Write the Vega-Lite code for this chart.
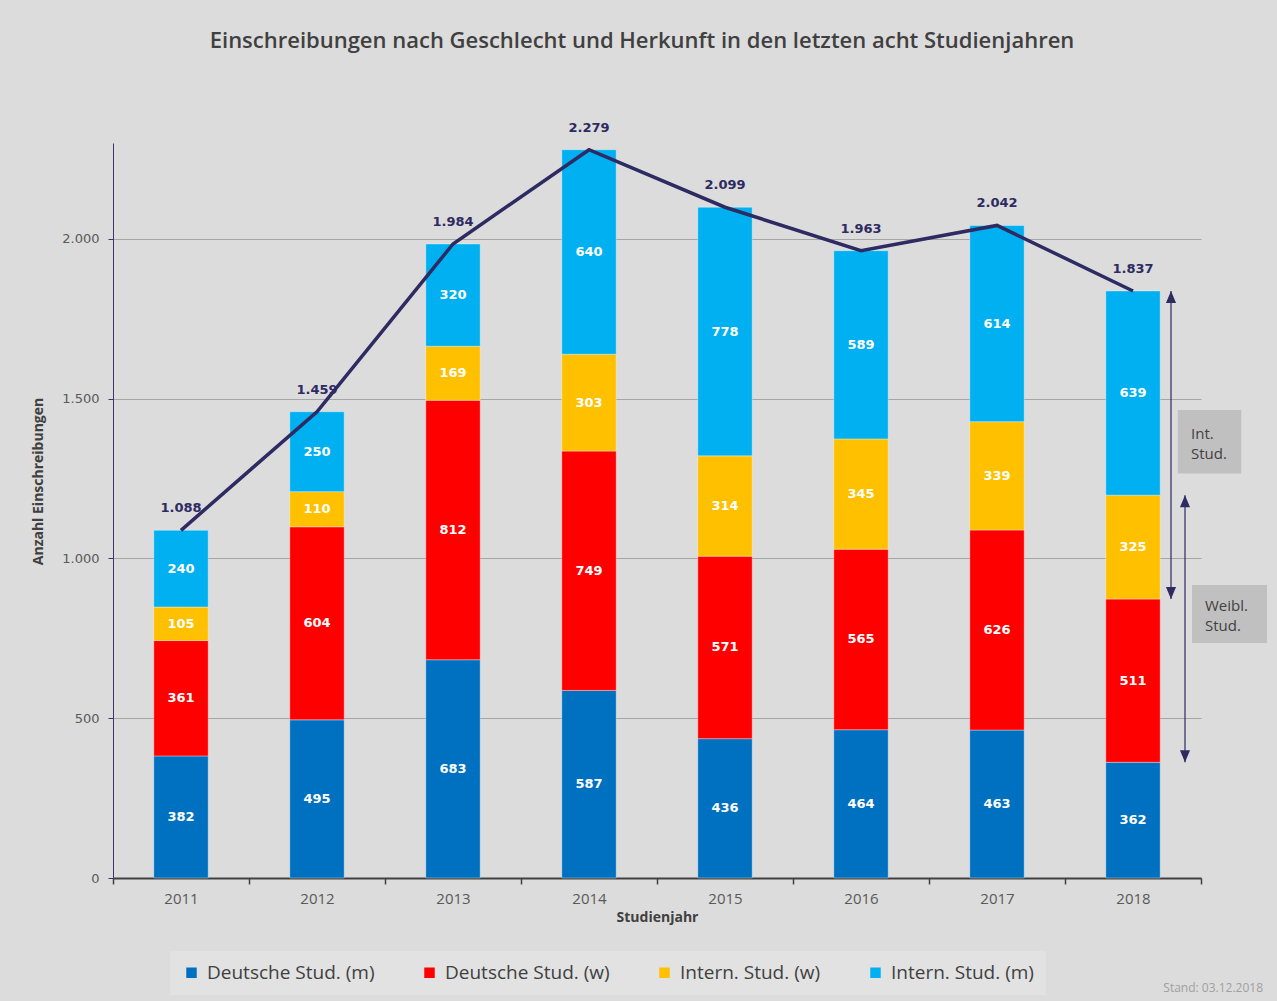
{
  "$schema": "https://vega.github.io/schema/vega-lite/v6.json",
  "width": 1088,
  "height": 735,
  "autosize": {"type": "none"},
  "padding": {"left": 113, "top": 143, "right": 76, "bottom": 123},
  "background": "#dcdcdc",
  "title": {
    "text": "Einschreibungen nach Geschlecht und Herkunft in den letzten acht Studienjahren",
    "font": "Open Sans",
    "fontSize": 22,
    "fontWeight": 600,
    "color": "#404040",
    "anchor": "middle",
    "dx": -15,
    "offset": 69
  },
  "datasets": {
    "einschreibungen": [
      {"Jahr": "2011", "Gruppe": "Deutsche Stud. (m)", "Anzahl": 382},
      {"Jahr": "2011", "Gruppe": "Deutsche Stud. (w)", "Anzahl": 361},
      {"Jahr": "2011", "Gruppe": "Intern. Stud. (w)", "Anzahl": 105},
      {"Jahr": "2011", "Gruppe": "Intern. Stud. (m)", "Anzahl": 240},
      {"Jahr": "2012", "Gruppe": "Deutsche Stud. (m)", "Anzahl": 495},
      {"Jahr": "2012", "Gruppe": "Deutsche Stud. (w)", "Anzahl": 604},
      {"Jahr": "2012", "Gruppe": "Intern. Stud. (w)", "Anzahl": 110},
      {"Jahr": "2012", "Gruppe": "Intern. Stud. (m)", "Anzahl": 250},
      {"Jahr": "2013", "Gruppe": "Deutsche Stud. (m)", "Anzahl": 683},
      {"Jahr": "2013", "Gruppe": "Deutsche Stud. (w)", "Anzahl": 812},
      {"Jahr": "2013", "Gruppe": "Intern. Stud. (w)", "Anzahl": 169},
      {"Jahr": "2013", "Gruppe": "Intern. Stud. (m)", "Anzahl": 320},
      {"Jahr": "2014", "Gruppe": "Deutsche Stud. (m)", "Anzahl": 587},
      {"Jahr": "2014", "Gruppe": "Deutsche Stud. (w)", "Anzahl": 749},
      {"Jahr": "2014", "Gruppe": "Intern. Stud. (w)", "Anzahl": 303},
      {"Jahr": "2014", "Gruppe": "Intern. Stud. (m)", "Anzahl": 640},
      {"Jahr": "2015", "Gruppe": "Deutsche Stud. (m)", "Anzahl": 436},
      {"Jahr": "2015", "Gruppe": "Deutsche Stud. (w)", "Anzahl": 571},
      {"Jahr": "2015", "Gruppe": "Intern. Stud. (w)", "Anzahl": 314},
      {"Jahr": "2015", "Gruppe": "Intern. Stud. (m)", "Anzahl": 778},
      {"Jahr": "2016", "Gruppe": "Deutsche Stud. (m)", "Anzahl": 464},
      {"Jahr": "2016", "Gruppe": "Deutsche Stud. (w)", "Anzahl": 565},
      {"Jahr": "2016", "Gruppe": "Intern. Stud. (w)", "Anzahl": 345},
      {"Jahr": "2016", "Gruppe": "Intern. Stud. (m)", "Anzahl": 589},
      {"Jahr": "2017", "Gruppe": "Deutsche Stud. (m)", "Anzahl": 463},
      {"Jahr": "2017", "Gruppe": "Deutsche Stud. (w)", "Anzahl": 626},
      {"Jahr": "2017", "Gruppe": "Intern. Stud. (w)", "Anzahl": 339},
      {"Jahr": "2017", "Gruppe": "Intern. Stud. (m)", "Anzahl": 614},
      {"Jahr": "2018", "Gruppe": "Deutsche Stud. (m)", "Anzahl": 362},
      {"Jahr": "2018", "Gruppe": "Deutsche Stud. (w)", "Anzahl": 511},
      {"Jahr": "2018", "Gruppe": "Intern. Stud. (w)", "Anzahl": 325},
      {"Jahr": "2018", "Gruppe": "Intern. Stud. (m)", "Anzahl": 639}
    ],
    "gesamt": [
      {"Jahr": "2011", "Gesamt": 1088},
      {"Jahr": "2012", "Gesamt": 1459},
      {"Jahr": "2013", "Gesamt": 1984},
      {"Jahr": "2014", "Gesamt": 2279},
      {"Jahr": "2015", "Gesamt": 2099},
      {"Jahr": "2016", "Gesamt": 1963},
      {"Jahr": "2017", "Gesamt": 2042},
      {"Jahr": "2018", "Gesamt": 1837}
    ],
    "pfeile": [
      {"Jahr": "2018", "Pfeil": "Int. Stud.", "von": 873, "bis": 1837},
      {"Jahr": "2018", "Pfeil": "Weibl. Stud.", "von": 362, "bis": 1198}
    ]
  },
  "layer": [
    {
      "data": {"name": "einschreibungen"},
      "transform": [
        {"calculate": "indexof(['Deutsche Stud. (m)','Deutsche Stud. (w)','Intern. Stud. (w)','Intern. Stud. (m)'], datum.Gruppe)", "as": "Rang"},
        {"stack": "Anzahl", "groupby": ["Jahr"], "sort": [{"field": "Rang", "order": "ascending"}], "as": ["y0", "y1"]},
        {"calculate": "(datum.y0 + datum.y1) / 2", "as": "ymid"}
      ],
      "layer": [
        {
          "mark": {"type": "bar", "width": {"band": 0.4}, "stroke": "#ffffff", "strokeWidth": 0.7, "strokeOpacity": 0.5},
          "encoding": {
            "x": {"field": "Jahr", "type": "nominal", "title": "Studienjahr",
                  "scale": {"paddingInner": 0, "paddingOuter": 0}},
            "y": {"field": "y0", "type": "quantitative", "title": "Anzahl Einschreibungen",
                  "scale": {"domain": [0, 2300], "nice": false},
                  "axis": {"values": [0, 500, 1000, 1500, 2000], "format": ",d"}},
            "y2": {"field": "y1"},
            "color": {
              "field": "Gruppe", "type": "nominal",
              "scale": {
                "domain": ["Deutsche Stud. (m)", "Deutsche Stud. (w)", "Intern. Stud. (w)", "Intern. Stud. (m)"],
                "range": ["#0070c0", "#ff0000", "#ffc000", "#00b0f0"]
              },
              "legend": {"title": null}
            }
          }
        },
        {
          "mark": {"type": "text", "color": "#ffffff", "font": "DejaVu Sans", "fontWeight": "bold", "fontSize": 13, "baseline": "middle"},
          "encoding": {
            "x": {"field": "Jahr", "type": "nominal", "title": "Studienjahr"},
            "y": {"field": "ymid", "type": "quantitative", "title": "Anzahl Einschreibungen"},
            "text": {"field": "Anzahl", "type": "quantitative", "format": "d"}
          }
        }
      ]
    },
    {
      "data": {"name": "gesamt"},
      "mark": {"type": "line", "color": "#2e2a62", "strokeWidth": 3.5},
      "encoding": {
        "x": {"field": "Jahr", "type": "nominal", "title": "Studienjahr"},
        "y": {"field": "Gesamt", "type": "quantitative", "title": "Anzahl Einschreibungen"}
      }
    },
    {
      "data": {"name": "gesamt"},
      "mark": {"type": "text", "color": "#2e2a62", "font": "DejaVu Sans", "fontWeight": "bold", "fontSize": 13, "baseline": "middle", "dy": -22},
      "encoding": {
        "x": {"field": "Jahr", "type": "nominal", "title": "Studienjahr"},
        "y": {"field": "Gesamt", "type": "quantitative", "title": "Anzahl Einschreibungen"},
        "text": {"field": "Gesamt", "type": "quantitative", "format": ",d"}
      }
    },
    {
      "data": {"name": "pfeile"},
      "transform": [{"filter": "datum.Pfeil == 'Int. Stud.'"}],
      "layer": [
        {
          "mark": {"type": "rule", "color": "#2e2a62", "strokeWidth": 1.2, "xOffset": 38},
          "encoding": {
            "x": {"field": "Jahr", "type": "nominal", "title": "Studienjahr"},
            "y": {"field": "von", "type": "quantitative", "title": "Anzahl Einschreibungen"},
            "y2": {"field": "bis"}
          }
        },
        {
          "transform": [{"fold": ["von", "bis"], "as": ["Ende", "Wert"]}],
          "mark": {"type": "point", "filled": true, "color": "#2e2a62", "opacity": 1, "size": 576, "xOffset": 38},
          "encoding": {
            "x": {"field": "Jahr", "type": "nominal", "title": "Studienjahr"},
            "y": {"field": "Wert", "type": "quantitative", "title": "Anzahl Einschreibungen"},
            "shape": {"field": "Ende", "type": "nominal", "legend": null,
                      "scale": {"domain": ["von", "bis"], "range": ["M0,0L0.42,-1L-0.42,-1Z", "M0,0L0.42,1L-0.42,1Z"]}}
          }
        }
      ]
    },
    {
      "data": {"name": "pfeile"},
      "transform": [{"filter": "datum.Pfeil == 'Weibl. Stud.'"}],
      "layer": [
        {
          "mark": {"type": "rule", "color": "#2e2a62", "strokeWidth": 1.2, "xOffset": 52},
          "encoding": {
            "x": {"field": "Jahr", "type": "nominal", "title": "Studienjahr"},
            "y": {"field": "von", "type": "quantitative", "title": "Anzahl Einschreibungen"},
            "y2": {"field": "bis"}
          }
        },
        {
          "transform": [{"fold": ["von", "bis"], "as": ["Ende", "Wert"]}],
          "mark": {"type": "point", "filled": true, "color": "#2e2a62", "opacity": 1, "size": 576, "xOffset": 52},
          "encoding": {
            "x": {"field": "Jahr", "type": "nominal", "title": "Studienjahr"},
            "y": {"field": "Wert", "type": "quantitative", "title": "Anzahl Einschreibungen"},
            "shape": {"field": "Ende", "type": "nominal", "legend": null,
                      "scale": {"domain": ["von", "bis"], "range": ["M0,0L0.42,-1L-0.42,-1Z", "M0,0L0.42,1L-0.42,1Z"]}}
          }
        }
      ]
    },
    {
      "data": {"values": [{"Jahr": "2018", "Notiz": "Int.\nStud."}]},
      "layer": [
        {
          "mark": {"type": "point", "shape": "square", "filled": true, "color": "#c0c0c0", "opacity": 1, "size": 4032, "xOffset": 76.5},
          "encoding": {
            "x": {"field": "Jahr", "type": "nominal", "title": "Studienjahr"},
            "y": {"datum": 1365, "type": "quantitative", "title": "Anzahl Einschreibungen"}
          }
        },
        {
          "mark": {"type": "text", "align": "left", "baseline": "middle", "lineBreak": "\n", "lineHeight": 20, "font": "Open Sans", "fontSize": 15, "color": "#404040", "xOffset": 58},
          "encoding": {
            "x": {"field": "Jahr", "type": "nominal", "title": "Studienjahr"},
            "y": {"datum": 1390, "type": "quantitative", "title": "Anzahl Einschreibungen"},
            "text": {"field": "Notiz"}
          }
        }
      ]
    },
    {
      "data": {"values": [{"Jahr": "2018", "Notiz": "Weibl.\nStud."}]},
      "layer": [
        {
          "mark": {"type": "point", "shape": "M-1,-0.773H1V0.773H-1Z", "filled": true, "color": "#c0c0c0", "opacity": 1, "size": 5625, "xOffset": 96.5},
          "encoding": {
            "x": {"field": "Jahr", "type": "nominal", "title": "Studienjahr"},
            "y": {"datum": 826, "type": "quantitative", "title": "Anzahl Einschreibungen"}
          }
        },
        {
          "mark": {"type": "text", "align": "left", "baseline": "middle", "lineBreak": "\n", "lineHeight": 20, "font": "Open Sans", "fontSize": 15, "color": "#404040", "xOffset": 72},
          "encoding": {
            "x": {"field": "Jahr", "type": "nominal", "title": "Studienjahr"},
            "y": {"datum": 850, "type": "quantitative", "title": "Anzahl Einschreibungen"},
            "text": {"field": "Notiz"}
          }
        }
      ]
    },
    {
      "data": {"values": [{"Jahr": "2018", "Notiz": "Stand: 03.12.2018"}]},
      "mark": {"type": "text", "align": "right", "baseline": "middle", "font": "Open Sans", "fontSize": 12, "color": "#a0a0a0", "xOffset": 130, "yOffset": 110},
      "encoding": {
        "x": {"field": "Jahr", "type": "nominal", "title": "Studienjahr"},
        "y": {"datum": 0, "type": "quantitative", "title": "Anzahl Einschreibungen"},
        "text": {"field": "Notiz"}
      }
    }
  ],
  "config": {
    "locale": {"number": {"decimal": ",", "thousands": ".", "grouping": [3], "currency": ["", " €"]}},
    "view": {"stroke": null},
    "axisX": {
      "domainColor": "#404040", "domainWidth": 2,
      "tickColor": "#404040", "tickSize": 6, "tickWidth": 1.5, "tickBand": "extent",
      "labelAngle": 0, "labelFont": "Open Sans", "labelFontSize": 15, "labelColor": "#595959", "labelPadding": 7,
      "titleFont": "Open Sans", "titleFontSize": 14, "titleFontWeight": "bold", "titleColor": "#404040", "titlePadding": 4,
      "grid": false
    },
    "axisY": {
      "domainColor": "#3b3670", "domainWidth": 1,
      "tickColor": "#3b3670", "tickSize": 5,
      "labelFont": "DejaVu Sans", "labelFontSize": 13, "labelColor": "#595959", "labelPadding": 9,
      "gridColor": "#a6a6a6", "gridWidth": 1,
      "titleFont": "Open Sans", "titleFontSize": 14, "titleFontWeight": "bold", "titleColor": "#404040",
      "titleX": -75, "titleY": 338, "titleBaseline": "middle", "titleAlign": "center", "titleAngle": -90
    },
    "legend": {
      "orient": "none", "legendX": 57, "legendY": 808, "direction": "horizontal",
      "fillColor": "#e2e2e2", "padding": 12,
      "symbolType": "square", "symbolSize": 110, "symbolStrokeWidth": 0,
      "labelFont": "Open Sans", "labelFontSize": 19, "labelColor": "#404040", "labelOffset": 6, "labelLimit": 300,
      "columnPadding": 45
    }
  }
}
